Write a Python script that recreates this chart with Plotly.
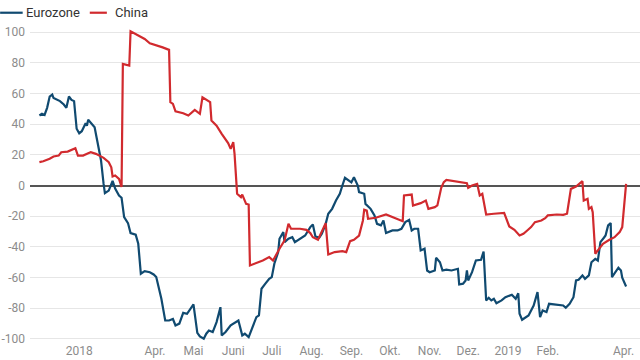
import plotly.graph_objects as go

euro_dates = [
    "2018-01-01","2018-01-03","2018-01-05","2018-01-07","2018-01-09","2018-01-11","2018-01-12","2018-01-17",
    "2018-01-20","2018-01-22","2018-01-24","2018-01-26","2018-01-28","2018-01-30","2018-02-01","2018-02-03",
    "2018-02-06","2018-02-07","2018-02-08","2018-02-10","2018-02-13","2018-02-15","2018-02-18","2018-02-20",
    "2018-02-21","2018-02-24","2018-02-27","2018-03-01","2018-03-04","2018-03-06","2018-03-08","2018-03-11",
    "2018-03-13","2018-03-17","2018-03-19","2018-03-21","2018-03-24","2018-03-28","2018-03-31","2018-04-02",
    "2018-04-06","2018-04-09","2018-04-12","2018-04-15","2018-04-17","2018-04-20","2018-04-23","2018-04-26",
    "2018-05-01","2018-05-04","2018-05-06","2018-05-09","2018-05-11","2018-05-13","2018-05-16","2018-05-19",
    "2018-05-22","2018-05-23","2018-05-26","2018-05-30","2018-06-02","2018-06-05","2018-06-08","2018-06-10",
    "2018-06-13","2018-06-16","2018-06-19","2018-06-21","2018-06-23","2018-06-26","2018-06-29","2018-07-01",
    "2018-07-03","2018-07-06","2018-07-07","2018-07-10","2018-07-11","2018-07-14","2018-07-17","2018-07-19",
    "2018-07-23","2018-07-27","2018-07-31","2018-08-02","2018-08-04","2018-08-07","2018-08-09","2018-08-12",
    "2018-08-14","2018-08-17","2018-08-20","2018-08-23","2018-08-25","2018-08-27","2018-09-01","2018-09-03",
    "2018-09-06","2018-09-07","2018-09-11","2018-09-12","2018-09-16","2018-09-19","2018-09-21","2018-09-24",
    "2018-09-26","2018-09-28","2018-10-03","2018-10-07","2018-10-10","2018-10-13","2018-10-16","2018-10-18",
    "2018-10-20","2018-10-23","2018-10-25","2018-10-28","2018-10-30","2018-11-01","2018-11-05","2018-11-06",
    "2018-11-09","2018-11-11","2018-11-14","2018-11-18","2018-11-23","2018-11-24","2018-11-27","2018-11-29",
    "2018-11-30","2018-12-01","2018-12-04","2018-12-07","2018-12-11","2018-12-13","2018-12-15","2018-12-17",
    "2018-12-19","2018-12-21","2018-12-23","2018-12-27","2018-12-30","2019-01-04","2019-01-07","2019-01-09",
    "2019-01-10","2019-01-12","2019-01-17","2019-01-21","2019-01-24","2019-01-26","2019-01-28","2019-01-31",
    "2019-02-02","2019-02-08","2019-02-13","2019-02-15","2019-02-18","2019-02-21","2019-02-23","2019-02-25",
    "2019-02-28","2019-03-02","2019-03-05","2019-03-07","2019-03-10","2019-03-12","2019-03-14","2019-03-17",
    "2019-03-18","2019-03-20","2019-03-22","2019-03-23","2019-03-25","2019-03-28","2019-03-30","2019-03-31",
    "2019-04-03",
]
euro_values = [
    45.6, 46.7, 46.0, 50.6, 58.0, 59.3, 57.0, 55.0,
    52.8, 50.6, 58.0, 55.8, 55.0, 37.0, 34.0, 35.4,
    40.6, 39.0, 42.8, 40.6, 38.0, 29.3, 16.3, 1.0,
    -5.0, -3.3, 3.0, -2.0, -6.5, -8.0, -20.6, -24.5,
    -31.0, -32.0, -38.0, -57.5, -55.8, -56.5, -58.0, -59.7,
    -73.8, -88.0, -88.0, -87.0, -91.2, -90.0, -83.0, -83.6,
    -77.5, -96.0, -98.4, -99.9, -96.6, -94.5, -95.5, -89.0,
    -79.3, -97.7, -95.5, -91.2, -89.7, -88.0, -97.7, -96.6,
    -98.8, -92.3, -85.8, -84.7, -67.3, -64.0, -60.8, -59.7,
    -51.0, -43.4, -34.7, -30.4, -36.9, -34.7, -33.7, -36.9,
    -34.7, -32.6, -27.1, -25.4, -33.2, -34.0, -31.5, -25.0,
    -18.4, -15.2, -9.8, -5.4, 0.0, 5.0, 2.0, 5.4,
    0.0, -4.3, -5.4, -12.0, -15.2, -19.5, -25.0, -26.0,
    -22.8, -31.0, -29.3, -29.3, -28.2, -23.9, -22.4, -29.3,
    -28.2, -28.2, -42.3, -41.2, -55.4, -56.5, -55.4, -47.1,
    -50.0, -55.4, -54.9, -55.4, -54.3, -64.5, -64.0, -61.9,
    -55.4, -61.9, -56.5, -48.9, -48.4, -43.0, -74.9, -73.2,
    -74.9, -73.8, -76.7, -74.9, -72.8, -71.2, -73.8, -70.2,
    -83.6, -87.5, -84.7, -78.2, -69.5, -85.8, -81.4, -82.5,
    -77.1, -77.5, -78.2, -79.7, -77.1, -72.8, -61.9, -61.4,
    -58.6, -60.8, -58.6, -50.0, -47.8, -48.9, -36.9, -33.7,
    -32.6, -26.0, -24.5, -59.7, -57.5, -53.6, -55.4, -60.1,
    -65.8,
]

china_dates = [
    "2018-01-01","2018-01-04","2018-01-09","2018-01-12","2018-01-16","2018-01-18","2018-01-23","2018-01-26",
    "2018-01-29","2018-01-31","2018-02-04","2018-02-08","2018-02-10","2018-02-14","2018-02-17","2018-02-20",
    "2018-02-24","2018-02-26","2018-02-27","2018-03-01","2018-03-04","2018-03-06","2018-03-07","2018-03-12",
    "2018-03-13","2018-03-17","2018-03-24","2018-03-28","2018-04-02","2018-04-07","2018-04-12","2018-04-13",
    "2018-04-15","2018-04-17","2018-04-23","2018-04-27","2018-05-02","2018-05-06","2018-05-08","2018-05-11",
    "2018-05-14","2018-05-15","2018-05-19","2018-05-23","2018-05-28","2018-05-30","2018-06-01","2018-06-02",
    "2018-06-03","2018-06-04","2018-06-07","2018-06-08","2018-06-11","2018-06-13","2018-06-14","2018-06-19",
    "2018-06-24","2018-06-29","2018-07-02","2018-07-07","2018-07-11","2018-07-14","2018-07-16","2018-07-23",
    "2018-07-28","2018-07-31","2018-08-02","2018-08-06","2018-08-08","2018-08-12","2018-08-14","2018-08-19",
    "2018-08-25","2018-08-28","2018-08-31","2018-09-03","2018-09-07","2018-09-10","2018-09-11","2018-09-13",
    "2018-09-14","2018-09-20","2018-09-28","2018-10-04","2018-10-11","2018-10-12","2018-10-18","2018-10-19",
    "2018-10-25","2018-10-29","2018-10-31","2018-11-05","2018-11-07","2018-11-10","2018-11-12","2018-11-14",
    "2018-11-22","2018-11-27","2018-11-30","2018-12-01","2018-12-04","2018-12-08","2018-12-10","2018-12-12",
    "2018-12-15","2018-12-21","2018-12-29","2019-01-02","2019-01-06","2019-01-10","2019-01-13","2019-01-16",
    "2019-01-19","2019-01-22","2019-01-27","2019-01-30","2019-02-01","2019-02-08","2019-02-13","2019-02-16",
    "2019-02-19","2019-02-23","2019-02-26","2019-02-28","2019-03-01","2019-03-04","2019-03-05","2019-03-07",
    "2019-03-08","2019-03-10","2019-03-12","2019-03-16","2019-03-21","2019-03-25","2019-03-29","2019-03-31",
    "2019-04-03",
]
china_values = [
    15.2, 15.8, 17.4, 18.9, 19.5, 21.7, 22.1, 23.3,
    24.3, 19.5, 19.5, 21.0, 21.7, 20.6, 19.5, 18.0,
    15.2, 11.9, 5.9, 6.5, 4.3, -1.0, 79.3, 78.2,
    100.5, 98.8, 95.5, 92.7, 91.6, 90.0, 88.4, 54.3,
    53.2, 48.4, 47.1, 45.6, 49.3, 46.7, 57.5, 55.8,
    54.3, 42.3, 39.0, 33.7, 27.6, 23.9, 28.2, 20.6,
    3.3, -5.4, -7.6, -5.9, -12.0, -12.4, -52.1, -50.6,
    -48.9, -46.7, -48.9, -41.2, -35.8, -25.0, -28.2, -28.2,
    -28.9, -31.0, -33.7, -35.4, -31.5, -24.5, -45.0, -43.4,
    -42.8, -43.4, -36.3, -35.4, -32.6, -22.8, -15.8, -16.3,
    -21.7, -21.0, -18.9, -21.0, -23.3, -6.5, -5.9, -13.0,
    -11.5, -9.8, -15.2, -14.1, -13.0, -1.5, 2.2, 3.7,
    2.6, 2.2, 1.5, -1.5, 0.0, 1.1, -6.5, -5.4,
    -18.9, -18.4, -17.8, -26.7, -28.9, -32.6, -31.5, -29.3,
    -27.1, -23.9, -22.8, -21.3, -19.5, -18.9, -19.1, -18.4,
    -2.2, -0.7, 1.1, 2.8, -9.8, -8.7, -15.2, -14.1,
    -17.4, -44.5, -42.3, -38.0, -35.4, -33.7, -30.4, -27.1,
    1.1,
]

x_tick_vals = ["2018-02-01","2018-04-01","2018-05-01","2018-06-01","2018-07-01","2018-08-01",
               "2018-09-01","2018-10-01","2018-11-01","2018-12-01","2019-01-01","2019-02-01","2019-04-01"]
x_tick_text = ["2018","Apr.","Mai","Juni","Juli","Aug.","Sep.","Okt.","Nov.","Dez.","2019","Feb.","Apr."]
y_tick_vals = [-100, -80, -60, -40, -20, 0, 20, 40, 60, 80, 100]
y_tick_text = ["-100", "-80", "-60", "-40", "-20", "0", "20", "40", "60", "80", "100"]

BLUE = "#104a70"
RED = "#d12a2e"

fig = go.Figure()
fig.add_trace(go.Scatter(x=euro_dates, y=euro_values, mode="lines", name="Eurozone",
                         line=dict(color=BLUE, width=2.2)))
fig.add_trace(go.Scatter(x=china_dates, y=china_values, mode="lines", name="China",
                         line=dict(color=RED, width=2.2)))

fig.update_layout(
    width=640, height=360,
    margin=dict(l=30, r=0, t=29, b=18, autoexpand=False),
    paper_bgcolor="white", plot_bgcolor="white",
    showlegend=False,
    font=dict(family="Roboto", size=12, color="#8c8c8c"),
    xaxis=dict(
        type="date", automargin=False,
        range=["2017-12-24 16:00", "2019-04-13 20:00"],
        tickvals=x_tick_vals, ticktext=x_tick_text,
        showgrid=False, zeroline=False, showline=False, ticks="",
        tickfont=dict(size=12, color="#8c8c8c"),
        ticklabelstandoff=0,
    ),
    yaxis=dict(
        automargin=False,
        range=[-102, 102],
        tickvals=y_tick_vals, ticktext=y_tick_text,
        showgrid=True, gridcolor="#e6e6e6", gridwidth=1,
        zeroline=True, zerolinecolor="#555555", zerolinewidth=1.5,
        showline=False, ticks="",
        tickfont=dict(size=12, color="#8c8c8c"),
        ticklabelstandoff=4,
    ),
    shapes=[
        dict(type="line", xref="paper", yref="paper", x0=-0.049, x1=-0.012, y0=1.052, y1=1.052,
             line=dict(color=BLUE, width=2.2)),
        dict(type="line", xref="paper", yref="paper", x0=0.098, x1=0.126, y0=1.052, y1=1.052,
             line=dict(color=RED, width=2.2)),
    ],
    annotations=[
        dict(text="Eurozone", xref="paper", yref="paper", x=-0.01, y=1.052, xanchor="left",
             yanchor="middle", showarrow=False, font=dict(family="Roboto", size=13, color="#333333")),
        dict(text="China", xref="paper", yref="paper", x=0.136, y=1.052, xanchor="left",
             yanchor="middle", showarrow=False, font=dict(family="Roboto", size=13, color="#333333")),
    ],
)

fig.write_html("out.html", config={"displayModeBar": False},
               post_script="document.body.style.margin='0';document.body.style.overflow='hidden';")
